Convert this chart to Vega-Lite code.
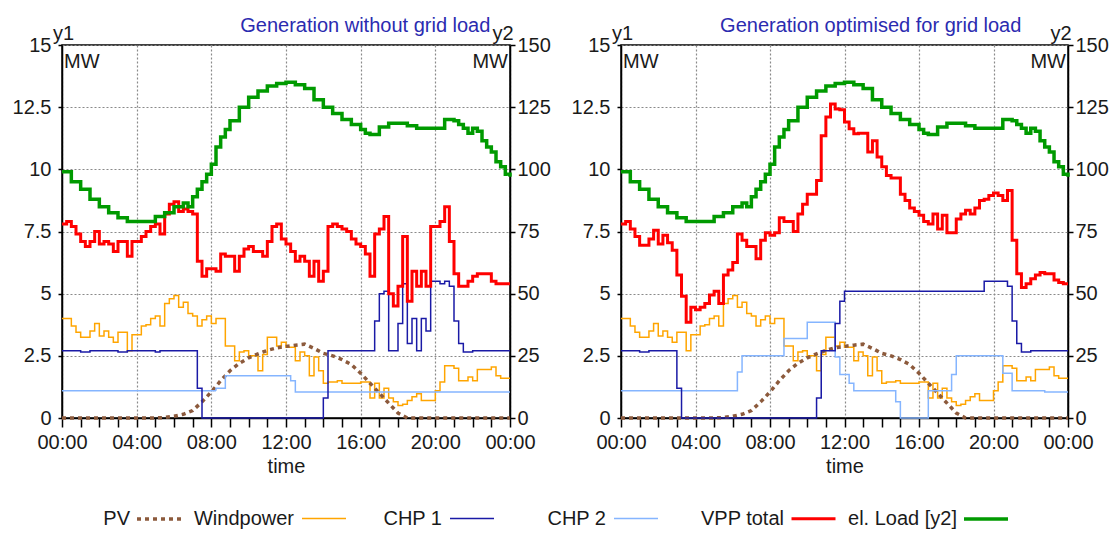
{
"$schema": "https://vega.github.io/schema/vega-lite/v6.json",
"padding": {"left": 11, "top": 14, "right": 2, "bottom": 2},
"spacing": 18,
"datasets": {
"common": [
{"t":0,"Windpower":4.0,"PV":0,"Load":99},{"t":0.25,"Windpower":4.0},{"t":0.5,"Windpower":3.7,"Load":95},{"t":0.75,"Windpower":3.45},
{"t":1,"Windpower":3.25,"Load":92},{"t":1.25,"Windpower":3.25},{"t":1.5,"Windpower":3.5,"Load":88},{"t":1.75,"Windpower":3.8},
{"t":2,"Windpower":3.3,"Load":85},{"t":2.25,"Windpower":3.5},{"t":2.5,"Windpower":3.25,"Load":82.5},{"t":2.75,"Windpower":3.05},
{"t":3,"Windpower":3.45,"Load":80.5},{"t":3.25,"Windpower":3.45},{"t":3.5,"Windpower":2.7,"Load":79},{"t":3.75,"Windpower":3.35},
{"t":4,"Windpower":3.35,"Load":79},{"t":4.25,"Windpower":3.7},{"t":4.5,"Windpower":3.75,"Load":79},{"t":4.75,"Windpower":4.0},
{"t":5,"Windpower":4.1,"PV":0,"Load":81},{"t":5.25,"Windpower":3.7},{"t":5.5,"Windpower":4.6,"PV":0.02,"Load":82.5},{"t":5.75,"Windpower":4.8},
{"t":6,"Windpower":4.93,"PV":0.07,"Load":85},{"t":6.25,"Windpower":4.45},{"t":6.5,"Windpower":4.65,"PV":0.15,"Load":86.5},{"t":6.75,"Windpower":4.2,"Load":85},
{"t":7,"Windpower":4.1,"PV":0.3,"Load":89},{"t":7.25,"Windpower":3.7,"Load":92},{"t":7.5,"Windpower":3.95,"PV":0.65,"Load":95},{"t":7.75,"Windpower":4.1,"Load":98},
{"t":8,"Windpower":3.8,"PV":1.05,"Load":102},{"t":8.25,"Windpower":4.0,"Load":109},{"t":8.5,"Windpower":4.0,"PV":1.5,"Load":113},{"t":8.75,"Windpower":2.9,"Load":116},
{"t":9,"Windpower":2.9,"PV":1.9,"Load":119.5},{"t":9.25,"Windpower":2.3},{"t":9.5,"Windpower":2.65,"PV":2.2,"Load":125},{"t":9.75,"Windpower":2.7},
{"t":10,"Windpower":2.5,"PV":2.42,"Load":129},{"t":10.25,"Windpower":2.5},{"t":10.5,"Windpower":1.9,"PV":2.58,"Load":131.5},{"t":10.75,"Windpower":2.55},
{"t":11,"Windpower":3.25,"PV":2.72,"Load":133.5},{"t":11.25,"Windpower":3.25},{"t":11.5,"Windpower":2.9,"PV":2.82,"Load":134.5},{"t":11.75,"Windpower":3.05},
{"t":12,"Windpower":2.85,"PV":2.88,"Load":135},{"t":12.25,"Windpower":2.85},{"t":12.5,"Windpower":2.3,"PV":2.93,"Load":134},{"t":12.75,"Windpower":2.65},
{"t":13,"Windpower":2.5,"PV":2.97,"Load":132.5},{"t":13.25,"Windpower":1.7},{"t":13.5,"Windpower":2.45,"PV":2.8,"Load":128},{"t":13.75,"Windpower":1.9},
{"t":14,"Windpower":1.4,"PV":2.6,"Load":125},{"t":14.25,"Windpower":1.45},{"t":14.5,"Windpower":1.45,"PV":2.5,"Load":122.5},{"t":14.75,"Windpower":1.5},
{"t":15,"Windpower":1.4,"PV":2.35,"Load":120},{"t":15.25,"Windpower":1.4},{"t":15.5,"Windpower":1.4,"PV":2.15,"Load":118},{"t":15.75,"Windpower":1.4},
{"t":16,"Windpower":1.45,"PV":1.8,"Load":116},{"t":16.25,"Windpower":1.45,"Load":114.5},{"t":16.5,"Windpower":0.8,"PV":1.4,"Load":114},{"t":16.75,"Windpower":1.4},
{"t":17,"Windpower":0.8,"PV":1.0,"Load":117},{"t":17.25,"Windpower":1.2},{"t":17.5,"Windpower":0.8,"PV":0.6,"Load":118.5},{"t":17.75,"Windpower":0.65},
{"t":18,"Windpower":0.5,"PV":0.2,"Load":118.5},{"t":18.25,"Windpower":0.55},{"t":18.5,"Windpower":0.7,"PV":0,"Load":117.5},{"t":18.75,"Windpower":0.85},
{"t":19,"Windpower":0.98,"Load":116.5},{"t":19.25,"Windpower":0.7},{"t":19.5,"Windpower":0.7,"Load":116.5},{"t":19.75,"Windpower":0.7},
{"t":20,"Windpower":1.1,"Load":116.5},{"t":20.25,"Windpower":1.45},{"t":20.5,"Windpower":2.1,"Load":120},{"t":20.75,"Windpower":2.1},
{"t":21,"Windpower":2.0,"Load":119.5},{"t":21.25,"Windpower":1.5,"Load":118},{"t":21.5,"Windpower":1.5,"Load":116.5},{"t":21.75,"Windpower":1.65,"Load":114.5},
{"t":22,"Windpower":1.5,"Load":116.5},{"t":22.25,"Windpower":1.95,"Load":115.3},{"t":22.5,"Windpower":1.95,"Load":111.5},{"t":22.75,"Windpower":1.95,"Load":109},
{"t":23,"Windpower":2.05,"Load":107},{"t":23.25,"Windpower":1.7,"Load":103},{"t":23.5,"Windpower":1.6,"Load":101},{"t":23.75,"Windpower":1.6,"Load":98},
{"t":24,"Windpower":1.6,"PV":0,"Load":97}
],
"L": [
{"t":0,"VPP":7.8,"CHP1":2.7,"CHP2":1.1},{"t":0.25,"VPP":7.9},{"t":0.5,"VPP":7.7},{"t":0.75,"VPP":7.4},
{"t":1,"VPP":7.1,"CHP1":2.65},{"t":1.25,"VPP":6.9},{"t":1.5,"VPP":7.1,"CHP1":2.7},{"t":1.75,"VPP":7.5},
{"t":2,"VPP":7.0},{"t":2.25,"VPP":7.1},{"t":2.5,"VPP":7.0},{"t":2.75,"VPP":6.7},
{"t":3,"VPP":7.1,"CHP1":2.65},{"t":3.25,"VPP":7.1},{"t":3.5,"VPP":6.5,"CHP1":2.7},{"t":3.75,"VPP":7.1},
{"t":4,"VPP":7.1},{"t":4.25,"VPP":7.3},{"t":4.5,"VPP":7.5},{"t":4.75,"VPP":7.7},
{"t":5,"VPP":7.8,"CHP1":2.65},{"t":5.25,"VPP":7.4,"CHP1":2.7},{"t":5.5,"VPP":8.2},{"t":5.75,"VPP":8.6},
{"t":6,"VPP":8.7},{"t":6.25,"VPP":8.3},{"t":6.5,"VPP":8.4},{"t":6.75,"VPP":8.3},
{"t":7,"VPP":8.2},{"t":7.25,"VPP":6.3,"CHP1":1.2},{"t":7.5,"VPP":5.7,"CHP1":0},{"t":7.75,"VPP":6.0},
{"t":8,"VPP":6.0},{"t":8.25,"VPP":5.9,"CHP2":1.2},{"t":8.5,"VPP":6.6},{"t":8.75,"VPP":6.5,"CHP2":1.7},
{"t":9,"VPP":6.5},{"t":9.25,"VPP":5.9},{"t":9.5,"VPP":6.5},{"t":9.75,"VPP":6.8},
{"t":10,"VPP":6.9},{"t":10.25,"VPP":6.7},{"t":10.5,"VPP":6.7},{"t":10.75,"VPP":6.5},
{"t":11,"VPP":7.1},{"t":11.25,"VPP":7.7},{"t":11.5,"VPP":7.8},{"t":11.75,"VPP":7.2},
{"t":12,"VPP":7.0},{"t":12.25,"VPP":6.7,"CHP2":1.5},{"t":12.5,"VPP":6.3,"CHP2":1.05},{"t":12.75,"VPP":6.5},
{"t":13,"VPP":6.3},{"t":13.25,"VPP":5.7},{"t":13.5,"VPP":6.3},{"t":13.75,"VPP":5.5},
{"t":14,"VPP":5.9,"CHP1":0.8},{"t":14.25,"VPP":7.7,"CHP1":2.7},{"t":14.5,"VPP":7.8},{"t":14.75,"VPP":7.7},
{"t":15,"VPP":7.6},{"t":15.25,"VPP":7.5},{"t":15.5,"VPP":7.2},{"t":15.75,"VPP":7.0},
{"t":16,"VPP":6.9},{"t":16.25,"VPP":6.6},{"t":16.5,"VPP":5.7},{"t":16.75,"VPP":7.4,"CHP1":3.9},
{"t":17,"VPP":7.6,"CHP1":5.0},{"t":17.25,"VPP":8.1,"CHP1":5.1},{"t":17.5,"VPP":5.0,"CHP1":2.7},{"t":17.75,"VPP":4.5},
{"t":18,"VPP":5.3,"CHP1":3.8},{"t":18.25,"VPP":7.3,"CHP1":5.4},{"t":18.5,"VPP":4.7,"CHP1":3.0},{"t":18.75,"VPP":5.9,"CHP1":4.0},
{"t":19,"VPP":5.3,"CHP1":2.7},{"t":19.25,"VPP":5.9,"CHP1":4.0},{"t":19.5,"VPP":5.3,"CHP1":3.5},{"t":19.75,"VPP":7.7,"CHP1":5.5},
{"t":20,"VPP":7.7},{"t":20.25,"VPP":7.9,"CHP1":5.4},{"t":20.5,"VPP":8.5,"CHP1":5.5},{"t":20.75,"VPP":7.1,"CHP1":5.3},
{"t":21,"VPP":5.8,"CHP1":3.9},{"t":21.25,"VPP":5.3,"CHP1":3.0},{"t":21.5,"VPP":5.3,"CHP1":2.65},{"t":21.75,"VPP":5.5},
{"t":22,"VPP":5.7,"CHP1":2.7},{"t":22.25,"VPP":5.8},{"t":22.5,"VPP":5.8},{"t":22.75,"VPP":5.8},
{"t":23,"VPP":5.5},{"t":23.25,"VPP":5.4},{"t":23.5,"VPP":5.4},{"t":23.75,"VPP":5.4},
{"t":24,"VPP":5.4,"CHP1":2.7,"CHP2":1.05}
],
"R": [
{"t":0,"VPP":7.8,"CHP1":2.7,"CHP2":1.1},{"t":0.25,"VPP":7.9},{"t":0.5,"VPP":7.6},{"t":0.75,"VPP":7.3},
{"t":1,"VPP":6.95,"CHP1":2.65},{"t":1.25,"VPP":6.95},{"t":1.5,"VPP":7.2,"CHP1":2.7},{"t":1.75,"VPP":7.55},
{"t":2,"VPP":7.0},{"t":2.25,"VPP":7.35},{"t":2.5,"VPP":7.05},{"t":2.75,"VPP":6.75},
{"t":3,"VPP":5.75,"CHP1":1.2},{"t":3.25,"VPP":4.9,"CHP1":0},{"t":3.5,"VPP":3.85},{"t":3.75,"VPP":4.45},
{"t":4,"VPP":4.35},{"t":4.25,"VPP":4.45},{"t":4.5,"VPP":4.6},{"t":4.75,"VPP":4.95},
{"t":5,"VPP":5.1},{"t":5.25,"VPP":4.6},{"t":5.5,"VPP":5.75},{"t":5.75,"VPP":5.95},
{"t":6,"VPP":6.25},{"t":6.25,"VPP":7.4,"CHP2":1.85},{"t":6.5,"VPP":7.15,"CHP2":2.5},{"t":6.75,"VPP":6.9},
{"t":7,"VPP":6.9},{"t":7.25,"VPP":6.4},{"t":7.5,"VPP":7.15},{"t":7.75,"VPP":7.45},
{"t":8,"VPP":7.35},{"t":8.25,"VPP":7.45},{"t":8.5,"VPP":8.05},{"t":8.75,"VPP":7.9,"CHP2":3.2},
{"t":9,"VPP":7.9},{"t":9.25,"VPP":7.5},{"t":9.5,"VPP":8.2},{"t":9.75,"VPP":8.6},
{"t":10,"VPP":9.0,"CHP2":3.85},{"t":10.25,"VPP":9.0},{"t":10.5,"VPP":9.55,"CHP1":0.8},{"t":10.75,"VPP":11.35,"CHP1":2.7},
{"t":11,"VPP":12.1},{"t":11.25,"VPP":12.63},{"t":11.5,"VPP":12.43,"CHP1":3.8,"CHP2":2.45},{"t":11.75,"VPP":12.4,"CHP1":4.7,"CHP2":1.75},
{"t":12,"VPP":11.9,"CHP1":5.1},{"t":12.25,"VPP":11.63,"CHP2":1.4},{"t":12.5,"VPP":11.43,"CHP2":1.1},{"t":12.75,"VPP":11.45},
{"t":13,"VPP":11.45},{"t":13.25,"VPP":10.7},{"t":13.5,"VPP":11.15},{"t":13.75,"VPP":10.5},
{"t":14,"VPP":10.1},{"t":14.25,"VPP":9.75},{"t":14.5,"VPP":9.65},{"t":14.75,"VPP":9.65,"CHP2":0.65},
{"t":15,"VPP":9.0,"CHP2":0},{"t":15.25,"VPP":8.75},{"t":15.5,"VPP":8.45},{"t":15.75,"VPP":8.3},
{"t":16,"VPP":8.15},{"t":16.25,"VPP":7.9},{"t":16.5,"VPP":7.8,"CHP2":1.1},{"t":16.75,"VPP":8.2},
{"t":17,"VPP":7.6},{"t":17.25,"VPP":8.15},{"t":17.5,"VPP":7.45},{"t":17.75,"VPP":7.45,"CHP2":1.75},
{"t":18,"VPP":8.0,"CHP2":2.5},{"t":18.25,"VPP":8.2},{"t":18.5,"VPP":8.35},{"t":18.75,"VPP":8.2},
{"t":19,"VPP":8.45},{"t":19.25,"VPP":8.75},{"t":19.5,"VPP":8.8,"CHP1":5.5},{"t":19.75,"VPP":8.95},
{"t":20,"VPP":9.05},{"t":20.25,"VPP":8.95},{"t":20.5,"VPP":8.75,"CHP2":1.8},{"t":20.75,"VPP":9.15,"CHP1":5.3},
{"t":21,"VPP":7.15,"CHP1":3.9,"CHP2":1.1},{"t":21.25,"VPP":5.8,"CHP1":3.0},{"t":21.5,"VPP":5.25,"CHP1":2.65},{"t":21.75,"VPP":5.4},
{"t":22,"VPP":5.6,"CHP1":2.7},{"t":22.25,"VPP":5.75},{"t":22.5,"VPP":5.85},{"t":22.75,"VPP":5.8,"CHP2":1.05},
{"t":23,"VPP":5.8},{"t":23.25,"VPP":5.55},{"t":23.5,"VPP":5.45},{"t":23.75,"VPP":5.4},
{"t":24,"VPP":5.4,"CHP1":2.7,"CHP2":1.05}
]
},
"hconcat": [
{
"width": 448, "height": 373,
"title": {"text": "Generation without grid load", "anchor": "end", "dx": -60, "offset": -12.5},
"encoding": {
 "x": {"field": "t", "type": "quantitative", "scale": {"domain": [0, 24], "nice": false, "zero": false},
  "axis": {"values": [0,1,2,3,4,5,6,7,8,9,10,11,12,13,14,15,16,17,18,19,20,21,22,23,24],
   "labelExpr": "datum.value % 4 == 0 ? (datum.value == 24 ? '00:00' : (datum.value < 10 ? '0' : '') + datum.value + ':00') : ''",
   "title": "time", "grid": true, "gridOpacity": {"condition": {"test": "datum.value % 4 == 0", "value": 1}, "value": 0},
   "tickSize": 9, "labelPadding": 5, "titlePadding": 4, "labelFlush": false, "labelOverlap": false, "labelBound": false}}
},
"layer": [
{"encoding": {
  "y": {"field": "v", "type": "quantitative", "scale": {"domain": [0, 15], "nice": false},
   "axis": {"values": [0, 2.5, 5, 7.5, 10, 12.5, 15], "format": ".3~g", "title": ["y1", "\u200b\u00a0\u00a0MW"], "titleLineHeight": 28, "titleAngle": 0, "titleAlign": "left", "titleBaseline": "alphabetic", "titleX": -9.5, "titleY": -6, "grid": true, "tickSize": 4, "labelPadding": 7, "labelFlush": false, "labelOverlap": false}}
 },
 "layer": [
{"data": {"name": "common"},
 "transform": [{"fold": ["Windpower"], "as": ["s", "v"]}, {"filter": "isValid(datum.v)"}],
 "mark": {"type": "line", "interpolate": "step-after"},
 "encoding": {
  "color": {"field": "s", "type": "nominal", "scale": {"domain": ["PV","Windpower","CHP1","CHP2","VPP","Load"], "range": ["#8c5a3c","#ffa500","#1a1aa6","#85b5ff","#ff0000","#009a00"]},
   "legend": {"orient": "none", "legendX": 73, "legendY": 450, "direction": "horizontal", "title": null, "labelExpr": "datum.label == 'Windpower' ? '\u200b\u00a0Windpower' : datum.label == 'CHP1' ? '\u200b\u00a0\u00a0\u00a0\u00a0\u00a0\u00a0CHP 1' : datum.label == 'CHP2' ? '\u200b\u00a0\u00a0\u00a0\u00a0\u00a0\u00a0\u00a0\u00a0\u00a0CHP 2' : datum.label == 'VPP' ? '\u200b\u00a0\u00a0\u00a0\u00a0\u00a0\u00a0\u00a0VPP total' : datum.label == 'Load' ? '\u200b\u00a0el. Load [y2]' : datum.label"}},
  "strokeDash": {"field": "s", "type": "nominal", "scale": {"domain": ["PV","Windpower","CHP1","CHP2","VPP","Load"], "range": [[4,4],[1,0],[1,0],[1,0],[1,0],[1,0]]},
   "legend": {"orient": "none", "legendX": 73, "legendY": 450, "direction": "horizontal", "title": null, "labelExpr": "datum.label == 'Windpower' ? '\u200b\u00a0Windpower' : datum.label == 'CHP1' ? '\u200b\u00a0\u00a0\u00a0\u00a0\u00a0\u00a0CHP 1' : datum.label == 'CHP2' ? '\u200b\u00a0\u00a0\u00a0\u00a0\u00a0\u00a0\u00a0\u00a0\u00a0CHP 2' : datum.label == 'VPP' ? '\u200b\u00a0\u00a0\u00a0\u00a0\u00a0\u00a0\u00a0VPP total' : datum.label == 'Load' ? '\u200b\u00a0el. Load [y2]' : datum.label"}},
  "strokeWidth": {"field": "s", "type": "nominal", "scale": {"type": "ordinal", "domain": ["PV","Windpower","CHP1","CHP2","VPP","Load"], "range": [3.5,1.5,1.5,1.5,3,3.5]},
   "legend": {"orient": "none", "legendX": 73, "legendY": 450, "direction": "horizontal", "title": null, "labelExpr": "datum.label == 'Windpower' ? '\u200b\u00a0Windpower' : datum.label == 'CHP1' ? '\u200b\u00a0\u00a0\u00a0\u00a0\u00a0\u00a0CHP 1' : datum.label == 'CHP2' ? '\u200b\u00a0\u00a0\u00a0\u00a0\u00a0\u00a0\u00a0\u00a0\u00a0CHP 2' : datum.label == 'VPP' ? '\u200b\u00a0\u00a0\u00a0\u00a0\u00a0\u00a0\u00a0VPP total' : datum.label == 'Load' ? '\u200b\u00a0el. Load [y2]' : datum.label"}}
 }},
{"data": {"name": "common"},
 "transform": [{"fold": ["PV"], "as": ["s", "v"]}, {"filter": "isValid(datum.v)"}],
 "mark": {"type": "line", "interpolate": "linear"},
 "encoding": {
  "color": {"field": "s", "type": "nominal", "scale": {"domain": ["PV","Windpower","CHP1","CHP2","VPP","Load"], "range": ["#8c5a3c","#ffa500","#1a1aa6","#85b5ff","#ff0000","#009a00"]}},
  "strokeDash": {"field": "s", "type": "nominal", "scale": {"domain": ["PV","Windpower","CHP1","CHP2","VPP","Load"], "range": [[4,4],[1,0],[1,0],[1,0],[1,0],[1,0]]}},
  "strokeWidth": {"field": "s", "type": "nominal", "scale": {"type": "ordinal", "domain": ["PV","Windpower","CHP1","CHP2","VPP","Load"], "range": [3.5,1.5,1.5,1.5,3,3.5]}}
 }},
{"data": {"name": "L"},
 "transform": [{"fold": ["CHP2", "CHP1", "VPP"], "as": ["s", "v"]}, {"filter": "isValid(datum.v)"}],
 "mark": {"type": "line", "interpolate": "step-after"},
 "encoding": {
  "color": {"field": "s", "type": "nominal", "scale": {"domain": ["PV","Windpower","CHP1","CHP2","VPP","Load"], "range": ["#8c5a3c","#ffa500","#1a1aa6","#85b5ff","#ff0000","#009a00"]}},
  "strokeDash": {"field": "s", "type": "nominal", "scale": {"domain": ["PV","Windpower","CHP1","CHP2","VPP","Load"], "range": [[4,4],[1,0],[1,0],[1,0],[1,0],[1,0]]}},
  "strokeWidth": {"field": "s", "type": "nominal", "scale": {"type": "ordinal", "domain": ["PV","Windpower","CHP1","CHP2","VPP","Load"], "range": [3.5,1.5,1.5,1.5,3,3.5]}}
 }}
]},
{"data": {"name": "common"},
 "transform": [{"fold": ["Load"], "as": ["s", "v"]}, {"filter": "isValid(datum.v)"}],
 "mark": {"type": "line", "interpolate": "step-after"},
 "encoding": {
  "y": {"field": "v", "type": "quantitative", "scale": {"domain": [0, 150], "nice": false},
   "axis": {"orient": "right", "values": [0, 25, 50, 75, 100, 125, 150], "title": ["y2", "MW\u00a0\u200b"], "titleLineHeight": 28, "titleAngle": 0, "titleAlign": "right", "titleBaseline": "alphabetic", "titleX": 3, "titleY": -6, "grid": false, "tickSize": 5, "labelPadding": 2, "labelFlush": false, "labelOverlap": false}},
  "color": {"field": "s", "type": "nominal", "scale": {"domain": ["PV","Windpower","CHP1","CHP2","VPP","Load"], "range": ["#8c5a3c","#ffa500","#1a1aa6","#85b5ff","#ff0000","#009a00"]}},
  "strokeDash": {"field": "s", "type": "nominal", "scale": {"domain": ["PV","Windpower","CHP1","CHP2","VPP","Load"], "range": [[4,4],[1,0],[1,0],[1,0],[1,0],[1,0]]}},
  "strokeWidth": {"field": "s", "type": "nominal", "scale": {"type": "ordinal", "domain": ["PV","Windpower","CHP1","CHP2","VPP","Load"], "range": [3.5,1.5,1.5,1.5,3,3.5]}}
 }}
],
"resolve": {"scale": {"y": "independent"}}
},
{
"width": 447, "height": 373,
"title": {"text": "Generation optimised for grid load", "anchor": "end", "dx": -87, "offset": -12.5},
"encoding": {
 "x": {"field": "t", "type": "quantitative", "scale": {"domain": [0, 24], "nice": false, "zero": false},
  "axis": {"values": [0,1,2,3,4,5,6,7,8,9,10,11,12,13,14,15,16,17,18,19,20,21,22,23,24],
   "labelExpr": "datum.value % 4 == 0 ? (datum.value == 24 ? '00:00' : (datum.value < 10 ? '0' : '') + datum.value + ':00') : ''",
   "title": "time", "grid": true, "gridOpacity": {"condition": {"test": "datum.value % 4 == 0", "value": 1}, "value": 0},
   "tickSize": 9, "labelPadding": 5, "titlePadding": 4, "labelFlush": false, "labelOverlap": false, "labelBound": false}}
},
"layer": [
{"encoding": {
  "y": {"field": "v", "type": "quantitative", "scale": {"domain": [0, 15], "nice": false},
   "axis": {"values": [0, 2.5, 5, 7.5, 10, 12.5, 15], "format": ".3~g", "title": ["y1", "\u200b\u00a0\u00a0MW"], "titleLineHeight": 28, "titleAngle": 0, "titleAlign": "left", "titleBaseline": "alphabetic", "titleX": -9.5, "titleY": -6, "grid": true, "tickSize": 4, "labelPadding": 7, "labelFlush": false, "labelOverlap": false}}
 },
 "layer": [
{"data": {"name": "common"},
 "transform": [{"fold": ["Windpower"], "as": ["s", "v"]}, {"filter": "isValid(datum.v)"}],
 "mark": {"type": "line", "interpolate": "step-after"},
 "encoding": {
  "color": {"field": "s", "type": "nominal", "scale": {"domain": ["PV","Windpower","CHP1","CHP2","VPP","Load"], "range": ["#8c5a3c","#ffa500","#1a1aa6","#85b5ff","#ff0000","#009a00"]}},
  "strokeDash": {"field": "s", "type": "nominal", "scale": {"domain": ["PV","Windpower","CHP1","CHP2","VPP","Load"], "range": [[4,4],[1,0],[1,0],[1,0],[1,0],[1,0]]}},
  "strokeWidth": {"field": "s", "type": "nominal", "scale": {"type": "ordinal", "domain": ["PV","Windpower","CHP1","CHP2","VPP","Load"], "range": [3.5,1.5,1.5,1.5,3,3.5]}}
 }},
{"data": {"name": "common"},
 "transform": [{"fold": ["PV"], "as": ["s", "v"]}, {"filter": "isValid(datum.v)"}],
 "mark": {"type": "line", "interpolate": "linear"},
 "encoding": {
  "color": {"field": "s", "type": "nominal", "scale": {"domain": ["PV","Windpower","CHP1","CHP2","VPP","Load"], "range": ["#8c5a3c","#ffa500","#1a1aa6","#85b5ff","#ff0000","#009a00"]}},
  "strokeDash": {"field": "s", "type": "nominal", "scale": {"domain": ["PV","Windpower","CHP1","CHP2","VPP","Load"], "range": [[4,4],[1,0],[1,0],[1,0],[1,0],[1,0]]}},
  "strokeWidth": {"field": "s", "type": "nominal", "scale": {"type": "ordinal", "domain": ["PV","Windpower","CHP1","CHP2","VPP","Load"], "range": [3.5,1.5,1.5,1.5,3,3.5]}}
 }},
{"data": {"name": "R"},
 "transform": [{"fold": ["CHP2", "CHP1", "VPP"], "as": ["s", "v"]}, {"filter": "isValid(datum.v)"}],
 "mark": {"type": "line", "interpolate": "step-after"},
 "encoding": {
  "color": {"field": "s", "type": "nominal", "scale": {"domain": ["PV","Windpower","CHP1","CHP2","VPP","Load"], "range": ["#8c5a3c","#ffa500","#1a1aa6","#85b5ff","#ff0000","#009a00"]}},
  "strokeDash": {"field": "s", "type": "nominal", "scale": {"domain": ["PV","Windpower","CHP1","CHP2","VPP","Load"], "range": [[4,4],[1,0],[1,0],[1,0],[1,0],[1,0]]}},
  "strokeWidth": {"field": "s", "type": "nominal", "scale": {"type": "ordinal", "domain": ["PV","Windpower","CHP1","CHP2","VPP","Load"], "range": [3.5,1.5,1.5,1.5,3,3.5]}}
 }}
]},
{"data": {"name": "common"},
 "transform": [{"fold": ["Load"], "as": ["s", "v"]}, {"filter": "isValid(datum.v)"}],
 "mark": {"type": "line", "interpolate": "step-after"},
 "encoding": {
  "y": {"field": "v", "type": "quantitative", "scale": {"domain": [0, 150], "nice": false},
   "axis": {"orient": "right", "values": [0, 25, 50, 75, 100, 125, 150], "title": ["y2", "MW\u00a0\u200b"], "titleLineHeight": 28, "titleAngle": 0, "titleAlign": "right", "titleBaseline": "alphabetic", "titleX": 3, "titleY": -6, "grid": false, "tickSize": 5, "labelPadding": 2, "labelFlush": false, "labelOverlap": false}},
  "color": {"field": "s", "type": "nominal", "scale": {"domain": ["PV","Windpower","CHP1","CHP2","VPP","Load"], "range": ["#8c5a3c","#ffa500","#1a1aa6","#85b5ff","#ff0000","#009a00"]}},
  "strokeDash": {"field": "s", "type": "nominal", "scale": {"domain": ["PV","Windpower","CHP1","CHP2","VPP","Load"], "range": [[4,4],[1,0],[1,0],[1,0],[1,0],[1,0]]}},
  "strokeWidth": {"field": "s", "type": "nominal", "scale": {"type": "ordinal", "domain": ["PV","Windpower","CHP1","CHP2","VPP","Load"], "range": [3.5,1.5,1.5,1.5,3,3.5]}}
 }}
],
"resolve": {"scale": {"y": "independent"}}
}
],
"config": {
 "font": "Liberation Sans, Arial, sans-serif",
 "view": {"stroke": "#000000", "strokeWidth": 1.5},
 "axis": {"labelFontSize": 20, "titleFontSize": 20, "titleFontWeight": "normal", "labelColor": "#1a1a1a", "titleColor": "#1a1a1a", "domainColor": "#000000", "domainWidth": 1.5, "tickColor": "#000000", "tickWidth": 1.5, "gridColor": "#8a8a8a", "gridDash": [2, 2], "gridWidth": 1.2},
 "legend": {"labelFontSize": 20, "labelColor": "#1a1a1a", "symbolSize": 1936, "labelAlign": "right", "labelOffset": -53, "columnPadding": 0, "labelLimit": 300, "padding": 0, "symbolType": "stroke"},
 "title": {"fontSize": 20, "fontWeight": "normal", "color": "#2b2bb0"}
}
}
